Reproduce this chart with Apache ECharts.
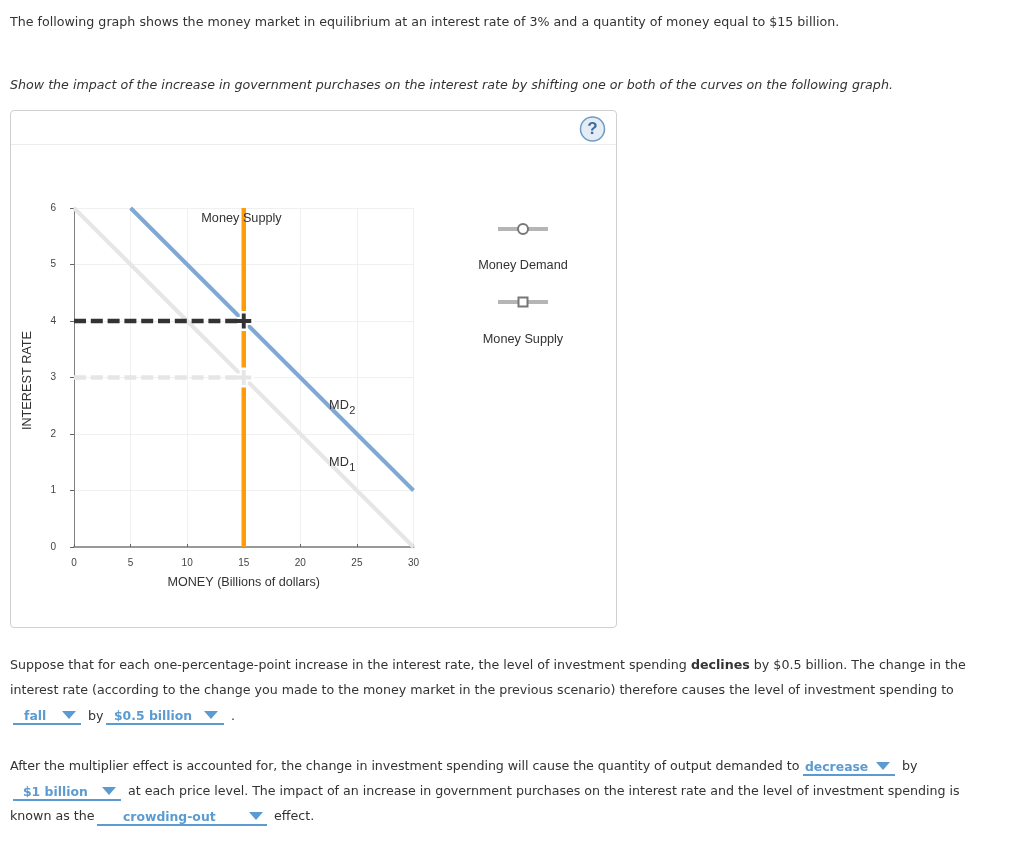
<!DOCTYPE html>
<html>
<head>
<meta charset="utf-8">
<script src="https://cdn.jsdelivr.net/npm/echarts@6/dist/echarts.min.js"></script>
<style>
    html, body { margin: 0; padding: 0; background: #fff; }
    body { width: 1024px; height: 847px; position: relative; overflow: hidden; font-family: "DejaVu Sans", sans-serif; font-size: 12.65px; color: #333; }
    #chart { position: absolute; left: 0; top: 0; width: 1024px; height: 847px; }
    .card { position: absolute; left: 10px; top: 110px; width: 605px; height: 516px; border: 1px solid #d0d0d0; border-radius: 4px; }
    .card:after { content: ''; position: absolute; left: 0; right: 0; top: 33px; height: 1px; background: #ececec; }
    .t { position: absolute; white-space: nowrap; line-height: 16px; height: 16px; }
    .dd { position: absolute; height: 16px; line-height: 17px; border-bottom: 2px solid #5b9bd1; color: #5b9bd1; font-weight: bold; font-size: 12.4px; white-space: nowrap; }
    .dd span { position: absolute; top: 0; }
    .dd i { position: absolute; top: 4px; width: 0; height: 0; border-left: 7.5px solid transparent; border-right: 7.5px solid transparent; border-top: 8px solid #5b9bd1; }
</style>
</head>
<body>
<div class="card"></div>
<div id="chart"></div>

<div class="t" style="left:10px;top:14px">The following graph shows the money market in equilibrium at an interest rate of 3% and a quantity of money equal to $15 billion.</div>
<div class="t" style="left:10px;top:77px;font-style:italic">Show the impact of the increase in government purchases on the interest rate by shifting one or both of the curves on the following graph.</div>

<div class="t" style="left:10px;top:657px">Suppose that for each one-percentage-point increase in the interest rate, the level of investment spending <b>declines</b> by $0.5 billion. The change in the</div>
<div class="t" style="left:10px;top:682px;letter-spacing:-0.014px">interest rate (according to the change you made to the money market in the previous scenario) therefore causes the level of investment spending to</div>
<div class="dd" style="left:13px;top:707px;width:68px"><span style="left:11px">fall</span><i style="left:49px"></i></div>
<div class="t" style="left:88px;top:708px">by</div>
<div class="dd" style="left:106px;top:707px;width:118px"><span style="left:8px">$0.5 billion</span><i style="left:98px"></i></div>
<div class="t" style="left:231px;top:708px">.</div>

<div class="t" style="left:10px;top:758px;letter-spacing:-0.05px">After the multiplier effect is accounted for, the change in investment spending will cause the quantity of output demanded to</div>
<div class="dd" style="left:803px;top:758px;width:92px"><span style="left:2px">decrease</span><i style="left:73px"></i></div>
<div class="t" style="left:902px;top:758px">by</div>
<div class="dd" style="left:13px;top:783px;width:108px"><span style="left:10px">$1 billion</span><i style="left:89px"></i></div>
<div class="t" style="left:128px;top:783px;letter-spacing:-0.03px">at each price level. The impact of an increase in government purchases on the interest rate and the level of investment spending is</div>
<div class="t" style="left:10px;top:808px">known as the</div>
<div class="dd" style="left:97px;top:808px;width:170px"><span style="left:26px">crowding-out</span><i style="left:152px"></i></div>
<div class="t" style="left:274px;top:808px">effect.</div>

<script>
    // curves as [money, interest rate]
    const md1Line = [[0, 6], [30, 0]]
    const md2Line = [[5, 6], [30, 1]]
    const supplyLine = [[15, 0], [15, 6]]
    const oldRateGuide = [[0, 3], [15, 3]]
    const newRateGuide = [[0, 4], [15, 4]]
    const oldEquilibrium = [[15, 3]]
    const newEquilibrium = [[15, 4]]

    const xTicks = [0, 5, 10, 15, 20, 25, 30]
    const yTicks = [0, 1, 2, 3, 4, 5, 6]

    // subscripts are their own entries, rich text would not drop them below the baseline
    const curveLabels = [
        { value: [23.41, 2.513], text: '{m|MD}' },
        { value: [24.6, 2.407], text: '{s|2}' },
        { value: [23.41, 1.504], text: '{m|MD}' },
        { value: [24.6, 1.398], text: '{s|1}' },
        { value: [14.8, 5.82], text: '{m|Money Supply}' }
    ]

    const chartFont = '"Liberation Sans", Arial, sans-serif'
    const plusPath = 'path://M3.7,0H6.3V3.7H10V6.3H6.3V10H3.7V6.3H0V3.7H3.7Z'
    const haloPath = 'path://M3,0H7V3H10V7H7V10H3V7H0V3H3Z'

    function lineSeries(data, color, width, dash, z) {
        return {
            type: 'line',
            data: data,
            symbol: 'none',
            silent: true,
            clip: false,
            z: z,
            lineStyle: { color: color, width: width, type: dash || 'solid', cap: 'butt' }
        }
    }

    function pointSeries(data, path, size, color, z) {
        return {
            type: 'scatter',
            data: data,
            symbol: path,
            symbolSize: size,
            silent: true,
            clip: false,
            z: z,
            itemStyle: { color: color, opacity: 1 }
        }
    }

    const myChart = echarts.init(document.getElementById('chart'), null, { renderer: 'canvas' })

    myChart.setOption({
        animation: false,
        grid: { left: 74, top: 208, width: 339.5, height: 339 },
        xAxis: {
            type: 'value',
            min: 0,
            max: 30,
            interval: 5,
            name: 'MONEY (Billions of dollars)',
            nameLocation: 'middle',
            nameGap: 29,
            nameTextStyle: { color: '#333', fontSize: 12.6, fontFamily: chartFont },
            axisLine: { lineStyle: { color: '#999', width: 2 } },
            axisTick: { show: true, inside: true, length: 3, lineStyle: { color: '#666' } },
            axisLabel: { color: '#444', fontSize: 10, margin: 11, fontFamily: chartFont,
                customValues: xTicks },
            splitLine: { show: true, lineStyle: { color: '#f0f0f0' } }
        },
        yAxis: {
            type: 'value',
            min: 0,
            max: 6,
            interval: 1,
            name: 'INTEREST RATE',
            nameLocation: 'middle',
            nameGap: 40,
            nameTextStyle: { color: '#333', fontSize: 12.7, fontFamily: chartFont, padding: [0, 6, 0, 0] },
            axisLine: { show: true, lineStyle: { color: '#808080', width: 1 } },
            axisTick: { show: true, length: 4, lineStyle: { color: '#666' } },
            axisLabel: { color: '#444', fontSize: 10, margin: 18, fontFamily: chartFont,
                customValues: yTicks },
            splitLine: { show: true, lineStyle: { color: '#f0f0f0' } }
        },
        series: [
            lineSeries(md1Line, '#e6e6e6', 4, null, 3),
            lineSeries(supplyLine, '#ff9c08', 4.5, null, 4),
            lineSeries(md2Line, '#7fa9d4', 4, null, 5),
            pointSeries(oldEquilibrium, haloPath, 20, '#fff', 6),
            pointSeries(newEquilibrium, haloPath, 20, '#fff', 6),
            lineSeries(oldRateGuide, '#e6e6e6', 4.5, [12, 4.8], 7),
            lineSeries(newRateGuide, '#333', 4.5, [12, 4.8], 7),
            pointSeries(oldEquilibrium, plusPath, 15, '#e6e6e6', 8),
            pointSeries(newEquilibrium, plusPath, 15, '#333', 8),
            {
                type: 'scatter',
                data: curveLabels,
                symbolSize: 0,
                silent: true,
                z: 9,
                itemStyle: { opacity: 1 },
                labelLayout: { hideOverlap: false },
                label: {
                    show: true,
                    position: 'inside',
                    opacity: 1,
                    formatter: (p) => p.data.text,
                    rich: {
                        m: { fontSize: 12.7, color: '#333', fontFamily: chartFont },
                        s: { fontSize: 11, color: '#333', fontFamily: chartFont }
                    }
                }
            }
        ],
        graphic: [
            { type: 'circle', shape: { cx: 592.5, cy: 129, r: 12 }, style: { fill: '#e4edf6', stroke: '#6e9bc4', lineWidth: 1.5 } },
            { type: 'text', x: 592.5, y: 129, style: { text: '?', fill: '#3f6c9c', font: 'bold 17px ' + chartFont, align: 'center', verticalAlign: 'middle' } },

            { type: 'rect', shape: { x: 498, y: 227, width: 50, height: 4 }, style: { fill: '#b5b5b5' } },
            { type: 'circle', shape: { cx: 523, cy: 229, r: 5 }, style: { fill: '#fff', stroke: '#777', lineWidth: 2 } },
            { type: 'text', x: 523, y: 265, style: { text: 'Money Demand', fill: '#333', font: '12.7px ' + chartFont, align: 'center', verticalAlign: 'middle' } },

            { type: 'rect', shape: { x: 498, y: 300, width: 50, height: 4 }, style: { fill: '#b5b5b5' } },
            { type: 'rect', shape: { x: 518.5, y: 297.5, width: 9, height: 9 }, style: { fill: '#fff', stroke: '#777', lineWidth: 2 } },
            { type: 'text', x: 523, y: 339, style: { text: 'Money Supply', fill: '#333', font: '12.7px ' + chartFont, align: 'center', verticalAlign: 'middle' } }
        ]
    })
</script>
</body>
</html>
